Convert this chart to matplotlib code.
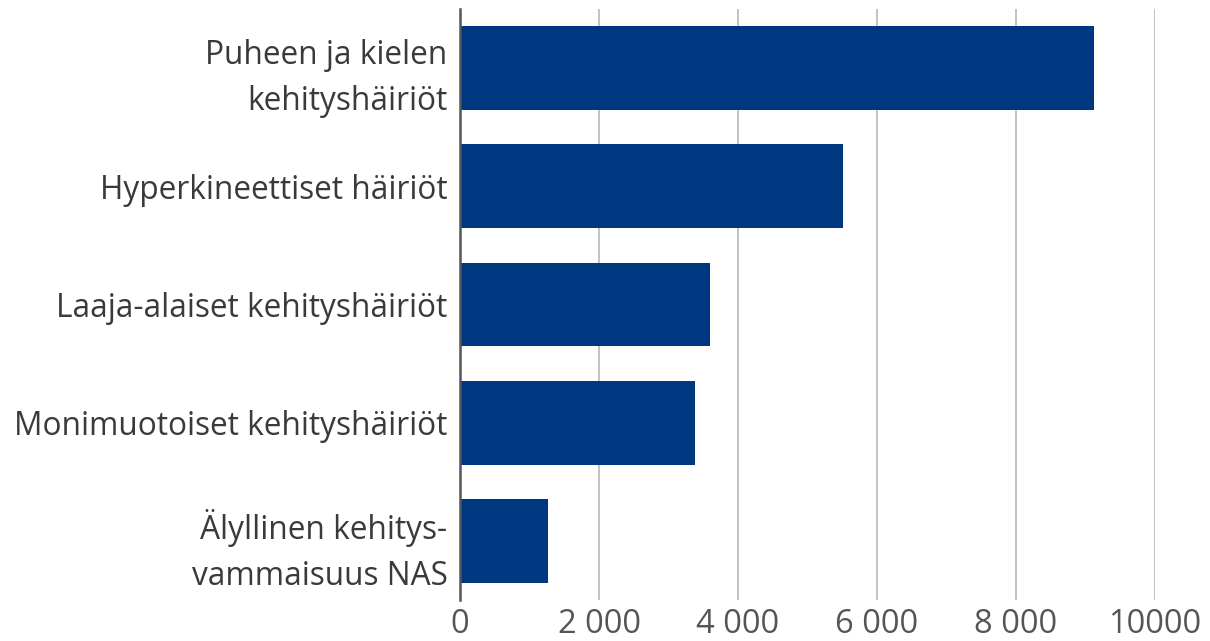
import matplotlib
matplotlib.use("Agg")
from matplotlib import pyplot as plt

CATEGORIES = [
    "Puheen ja kielen\nkehityshäiriöt",
    "Hyperkineettiset häiriöt",
    "Laaja-alaiset kehityshäiriöt",
    "Monimuotoiset kehityshäiriöt",
    "Älyllinen kehitys-\nvammaisuus NAS",
]
VALUES = [9120, 5510, 3600, 3380, 1270]
X_TICKS = [0, 2000, 4000, 6000, 8000, 10000]
X_TICK_LABELS = ["0", "2 000", "4 000", "6 000", "8 000", "10000"]

BAR_COLOR = "#003781"
TEXT_COLOR = "#3a3a3a"

plt.rcParams["font.family"] = ["Open Sans", "DejaVu Sans"]

fig = plt.figure(figsize=(12.1, 6.41), dpi=100)
ax = fig.add_axes([460 / 1210, 1 - 600 / 641, (1155 - 460) / 1210, 591 / 641])

y = list(range(len(CATEGORIES)))
ax.barh(y, VALUES, height=0.71, color=BAR_COLOR, zorder=3)
ax.set_ylim(len(CATEGORIES) - 0.5, -0.5)
ax.set_xlim(0, 10000)

ax.set_xticks(X_TICKS)
ax.set_xticklabels(X_TICK_LABELS, fontsize=23.5, color="#555555")
ax.set_yticks(y)
ax.set_yticklabels(CATEGORIES, fontsize=22.8, color=TEXT_COLOR, linespacing=1.5)

ax.grid(axis="x", color="#bdbdbd", linewidth=1.3, zorder=0)
ax.tick_params(axis="both", length=0)
ax.tick_params(axis="y", pad=9)
ax.tick_params(axis="x", pad=6)

for side in ("top", "right", "bottom"):
    ax.spines[side].set_visible(False)
ax.spines["left"].set_color("#555555")
ax.spines["left"].set_linewidth(1.8)
ax.spines["left"].set_zorder(4)

fig.savefig("out.png", dpi=100)
plt.close(fig)
